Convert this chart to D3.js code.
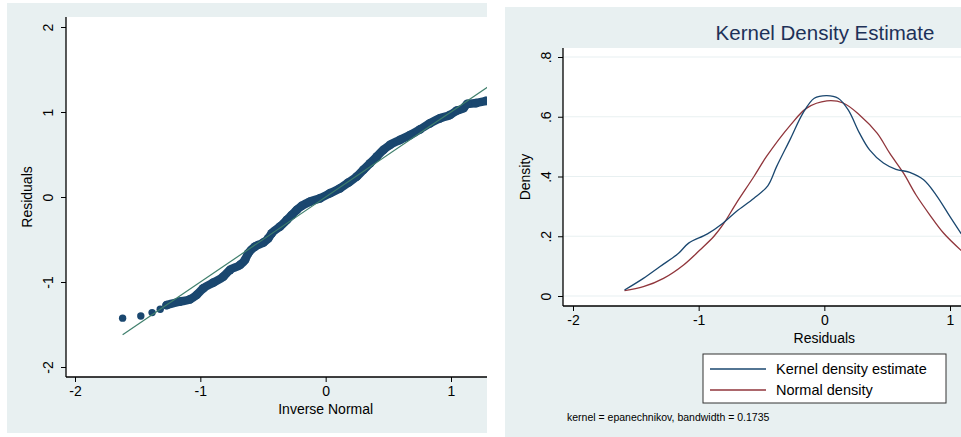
<!DOCTYPE html>
<html>
<head>
<meta charset="utf-8">
<title>Residual diagnostics</title>
<script src="https://cdn.jsdelivr.net/npm/d3@7/dist/d3.min.js"></script>
<style>
  body { margin: 0; background: #fff; }
  text { font-family: "Liberation Sans", Arial, sans-serif; fill: #000; }
</style>
</head>
<body>
<svg id="mainsvg" width="961" height="437"></svg>
<script>
// --- data ---
// Q-Q plot: isolated lower-tail points, then the dense run of points
const tailX = [-1.62, -1.475, -1.385, -1.32]
const tailY = [-1.425, -1.40, -1.36, -1.32]
const bandX = [-1.269, -1.163, -1.083, -1.030, -0.977, -0.897, -0.817, -0.764, -0.684, -0.644, -0.618, -0.564,
               -0.498, -0.458, -0.431, -0.365, -0.31, -0.271, -0.231, -0.192, -0.125, -0.045, 0.034, 0.114,
               0.180, 0.247, 0.300, 0.354, 0.407, 0.460, 0.513, 0.593, 0.673, 0.753, 0.832, 0.912, 0.992,
               1.045, 1.10, 1.13, 1.20, 1.28]
const bandY = [-1.271, -1.231, -1.204, -1.153, -1.075, -1.008, -0.937, -0.859, -0.800, -0.741, -0.663, -0.584,
               -0.537, -0.486, -0.427, -0.349, -0.27, -0.212, -0.153, -0.106, -0.055, -0.015, 0.044, 0.102,
               0.168, 0.239, 0.318, 0.396, 0.474, 0.553, 0.612, 0.671, 0.729, 0.796, 0.867, 0.926, 0.965,
               1.015, 1.045, 1.095, 1.105, 1.13]
const refLineX = [-1.62, 1.35]
const refLineY = [-1.62, 1.35]
const qqXTicks = [-2, -1, 0, 1]
const qqYTicks = [-2, -1, 0, 1, 2]

// Kernel density panel
const kdeX = [-1.59, -1.44, -1.31, -1.16, -1.08, -0.93, -0.81, -0.70, -0.56, -0.45, -0.38, -0.27, -0.17,
              -0.08, 0.02, 0.11, 0.19, 0.28, 0.36, 0.47, 0.57, 0.68, 0.79, 0.89, 1.00, 1.09]
const kdeY = [0.020, 0.059, 0.098, 0.143, 0.177, 0.208, 0.243, 0.283, 0.327, 0.369, 0.433, 0.526, 0.612,
              0.662, 0.671, 0.662, 0.623, 0.545, 0.489, 0.445, 0.424, 0.414, 0.389, 0.338, 0.266, 0.208]
const normX = [-1.59, -1.44, -1.28, -1.12, -0.99, -0.88, -0.80, -0.70, -0.56, -0.46, -0.27, -0.14, 0.02,
               0.15, 0.28, 0.42, 0.52, 0.63, 0.73, 0.84, 0.95, 1.09]
const normY = [0.018, 0.031, 0.059, 0.104, 0.154, 0.199, 0.243, 0.311, 0.400, 0.467, 0.572, 0.629, 0.653,
               0.646, 0.606, 0.545, 0.478, 0.411, 0.338, 0.271, 0.210, 0.152]
const kdXTicks = [-2, -1, 0, 1]
const kdYTicks = [0, 0.2, 0.4, 0.6, 0.8]
const kdYLabels = ['0', '.2', '.4', '.6', '.8']
const legendLabels = ['Kernel density estimate', 'Normal density']

const bg = '#e8f0f1'
const navy = '#1a476f'
const maroon = '#90353b'

const svg = d3.select('#mainsvg')
const plain = d => String(d)   // keep ASCII hyphen for negatives, like the original

// helper: axes with outward ticks and Stata-like rotated y labels
function drawAxes(g, x, y, box, xt, yt, yfmt, xlabel, ylabel, ylabX, ytitleX) {
    g.append('line').attr('x1', box.x0).attr('x2', box.x1).attr('y1', box.y1).attr('y2', box.y1)
        .attr('stroke', '#000').attr('stroke-width', 1.3)
    g.append('line').attr('x1', box.x0).attr('x2', box.x0).attr('y1', box.y0).attr('y2', box.y1)
        .attr('stroke', '#000').attr('stroke-width', 1.3)

    const xa = g.append('g').attr('transform', `translate(0,${box.y1})`)
        .call(d3.axisBottom(x).tickValues(xt).tickSize(5).tickPadding(4).tickFormat(plain))
    xa.select('.domain').remove()
    xa.selectAll('line').attr('stroke', '#000')
    xa.selectAll('text').attr('font-size', 14).attr('fill', '#000')

    const ya = g.append('g').attr('transform', `translate(${box.x0},0)`)
        .call(d3.axisLeft(y).tickValues(yt).tickSize(5).tickFormat(yfmt))
    ya.select('.domain').remove()
    ya.selectAll('line').attr('stroke', '#000')
    ya.selectAll('text')
        .attr('x', 0).attr('dy', 0)
        .attr('text-anchor', 'middle')
        .attr('transform', `translate(${ylabX},0) rotate(-90)`)
        .attr('font-size', 14).attr('fill', '#000')

    g.append('text').attr('x', (x(0))).attr('y', box.y1 + 37)
        .attr('text-anchor', 'middle').attr('font-size', 14).text(xlabel)
    g.append('text')
        .attr('transform', `translate(${ytitleX},${(box.y0 + box.y1) / 2}) rotate(-90)`)
        .attr('text-anchor', 'middle').attr('font-size', 14).text(ylabel)
}

// ---------------- left panel: normal Q-Q plot ----------------
const left = svg.append('g')
left.append('rect').attr('x', 7).attr('y', 3).attr('width', 480).attr('height', 430).attr('fill', bg)
const lbox = {x0: 66, x1: 487, y0: 17, y1: 377}
left.append('rect').attr('x', lbox.x0).attr('y', lbox.y0)
    .attr('width', lbox.x1 - lbox.x0).attr('height', lbox.y1 - lbox.y0).attr('fill', '#fff')

const xL = d3.scaleLinear().domain([-2, 1]).range([75, 451])
const yL = d3.scaleLinear().domain([-2, 2]).range([367, 27])

svg.append('clipPath').attr('id', 'clipL').append('rect')
    .attr('x', lbox.x0).attr('y', lbox.y0).attr('width', lbox.x1 - lbox.x0).attr('height', lbox.y1 - lbox.y0)
const lp = left.append('g').attr('clip-path', 'url(#clipL)')

// the dense run of points overlaps into a band
const band = bandX.map((d, i) => [d, bandY[i]])
lp.append('path').datum(band)
    .attr('d', d3.line().x(d => xL(d[0])).y(d => yL(d[1])).curve(d3.curveMonotoneX))
    .attr('fill', 'none').attr('stroke', navy).attr('stroke-width', 8.5)
    .attr('stroke-linecap', 'round').attr('stroke-linejoin', 'round')
lp.selectAll('circle.band').data(band).join('circle').attr('class', 'band')
    .attr('cx', d => xL(d[0])).attr('cy', d => yL(d[1])).attr('r', 4.4).attr('fill', navy)
lp.selectAll('circle.tail').data(tailX.map((d, i) => [d, tailY[i]])).join('circle').attr('class', 'tail')
    .attr('cx', d => xL(d[0])).attr('cy', d => yL(d[1])).attr('r', 3.7).attr('fill', navy)

lp.append('line')
    .attr('x1', xL(refLineX[0])).attr('y1', yL(refLineY[0]))
    .attr('x2', xL(refLineX[1])).attr('y2', yL(refLineY[1]))
    .attr('stroke', '#3f7f6c').attr('stroke-width', 1.2)

drawAxes(left, xL, yL, lbox, qqXTicks, qqYTicks, plain, 'Inverse Normal', 'Residuals', -13, 32)

// ---------------- right panel: kernel density ----------------
const right = svg.append('g')
right.append('rect').attr('x', 505).attr('y', 7).attr('width', 456).attr('height', 430).attr('fill', bg)
const rbox = {x0: 563, x1: 961, y0: 48, y1: 306}
right.append('rect').attr('x', rbox.x0).attr('y', rbox.y0)
    .attr('width', rbox.x1 - rbox.x0).attr('height', rbox.y1 - rbox.y0).attr('fill', '#fff')

const xR = d3.scaleLinear().domain([-2, 1]).range([573, 950])
const yR = d3.scaleLinear().domain([0, 0.8]).range([296, 57])

right.selectAll('line.grid').data(kdYTicks).join('line').attr('class', 'grid')
    .attr('x1', rbox.x0).attr('x2', rbox.x1)
    .attr('y1', d => yR(d)).attr('y2', d => yR(d))
    .attr('stroke', bg).attr('stroke-width', 1.2)

svg.append('clipPath').attr('id', 'clipR').append('rect')
    .attr('x', rbox.x0).attr('y', rbox.y0).attr('width', rbox.x1 - rbox.x0).attr('height', rbox.y1 - rbox.y0)
const rp = right.append('g').attr('clip-path', 'url(#clipR)')

const curve = d3.line().x(d => xR(d[0])).y(d => yR(d[1])).curve(d3.curveCatmullRom.alpha(0.5))
rp.append('path').datum(normX.map((d, i) => [d, normY[i]]))
    .attr('d', curve).attr('fill', 'none').attr('stroke', maroon).attr('stroke-width', 1.3)
rp.append('path').datum(kdeX.map((d, i) => [d, kdeY[i]]))
    .attr('d', curve).attr('fill', 'none').attr('stroke', navy).attr('stroke-width', 1.3)

drawAxes(right, xR, yR, rbox, kdXTicks, kdYTicks, (d, i) => kdYLabels[i], 'Residuals', 'Density', -12, 530)

right.append('text').attr('x', 825).attr('y', 40).attr('text-anchor', 'middle')
    .attr('font-size', 20.5).style('fill', '#1d3158').text('Kernel Density Estimate')

// legend
const leg = right.append('g')
leg.append('rect').attr('x', 703).attr('y', 354).attr('width', 243).attr('height', 49)
    .attr('fill', '#fff').attr('stroke', '#333').attr('stroke-width', 1)
leg.selectAll('line.key').data(legendLabels).join('line').attr('class', 'key')
    .attr('x1', 710).attr('x2', 766)
    .attr('y1', (d, i) => 369 + i * 21).attr('y2', (d, i) => 369 + i * 21)
    .attr('stroke', (d, i) => i === 0 ? navy : maroon).attr('stroke-width', 1.3)
leg.selectAll('text.key').data(legendLabels).join('text').attr('class', 'key')
    .attr('x', 776).attr('y', (d, i) => 374 + i * 21)
    .attr('font-size', 14.5).text(d => d)

right.append('text').attr('x', 567).attr('y', 421).attr('font-size', 10.5)
    .text('kernel = epanechnikov, bandwidth = 0.1735')
</script>
</body>
</html>
